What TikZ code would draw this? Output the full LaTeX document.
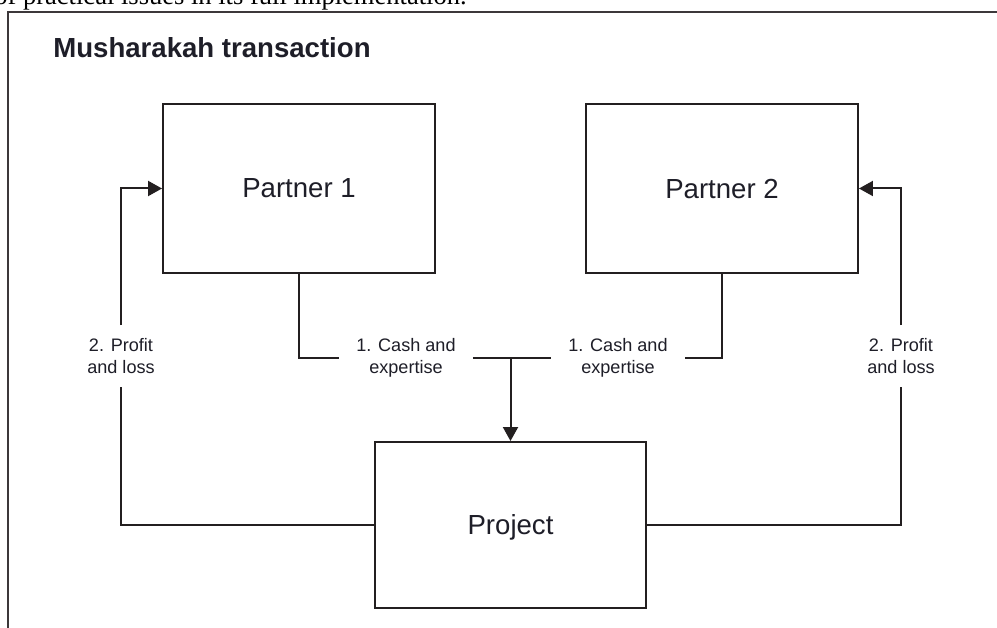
\documentclass[tikz,border=0pt]{standalone}
\usepackage{fontspec}
\setmainfont{Liberation Sans}
\newfontfamily\serifface{Liberation Serif}
\usetikzlibrary{arrows.meta}
\definecolor{linec}{RGB}{35,31,32}
\definecolor{framec}{RGB}{60,56,58}
\definecolor{textc}{RGB}{30,30,40}
\begin{document}
\begin{tikzpicture}[x=0.02cm,y=-0.02cm,
  box/.style={draw=linec, line width=0.04cm, minimum width=5.44cm, minimum height=3.38cm,
    inner sep=0pt, text=textc, font=\fontsize{15.7}{18}\selectfont, text depth=0pt},
  lbl/.style={align=center, text=textc, font=\fontsize{10.3}{12.5}\selectfont,
    inner xsep=0.34cm, inner ysep=0.26cm},
  conn/.style={draw=linec, line width=0.04cm},
  arr/.style={conn, -{Triangle[length=0.28cm,width=0.3cm]}}]
\useasboundingbox (0,0) rectangle (997,628);
\clip (0,0) rectangle (997,628);
\fill[white] (0,0) rectangle (997,628);
\node[anchor=base west, inner sep=0pt, text=black, font=\serifface\fontsize{15.1}{18}\selectfont] (toptext) at (-6,5) {of practical issues in its full implementation.};
\draw[framec, line width=0.03cm] (8,700) -- (8,12) -- (1010,12);
\node[anchor=base west, inner sep=0pt, text=textc, font=\bfseries\fontsize{15.7}{18}\selectfont] (title) at (53,58) {Musharakah transaction};
\node[box] (p1) at (299,188.5) {Partner 1};
\node[box] (p2) at (722,188.5) {Partner 2};
\node[box, minimum width=5.42cm, minimum height=3.32cm] (proj) at (510.5,525) {Project};
\node[lbl] (c1) at (406,358) {1. Cash and\\expertise};
\node[lbl] (c2) at (618,358) {1. Cash and\\expertise};
\node[lbl, inner xsep=0pt] (l1) at (121,356) {2. Profit\\and loss};
\node[lbl, inner xsep=0pt] (l2) at (901,356) {2. Profit\\and loss};
\draw[conn] (p1.south) |- (c1.west);
\draw[conn] (p2.south) |- (c2.east);
\draw[conn] (c1.east) -- (c2.west);
\draw[arr] (proj.north |- c1.east) -- (proj.north);
\draw[conn] (proj.west) -| (l1.south);
\draw[arr] (l1.north) |- (p1.west);
\draw[conn] (proj.east) -| (l2.south);
\draw[arr] (l2.north) |- (p2.east);
\end{tikzpicture}
\end{document}
